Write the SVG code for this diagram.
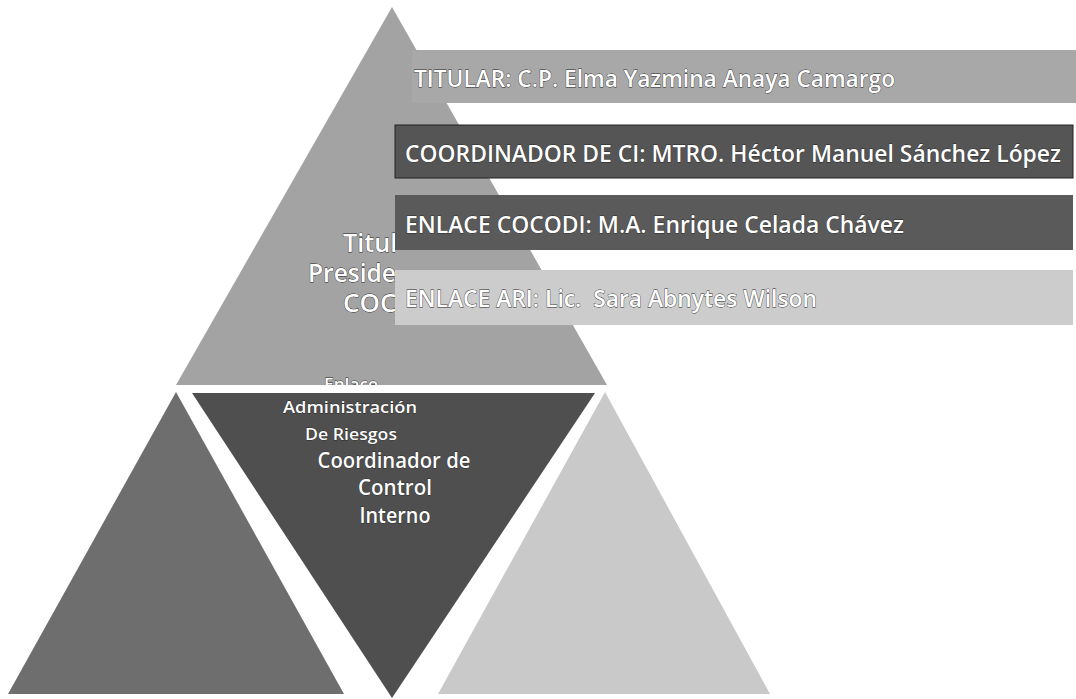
<svg xmlns="http://www.w3.org/2000/svg" width="1076" height="699" viewBox="0 0 1076 699">
<style>
.t{font-family:"Open Sans","Liberation Sans",sans-serif;fill:#ffffff;stroke:#2a2a2a;stroke-width:0.8;paint-order:stroke;font-weight:600;}
.bar{font-size:24px;}
.mid{text-anchor:middle;}
</style>
<defs>
<clipPath id="topclip"><rect x="0" y="0" width="1076" height="385"/></clipPath>
<clipPath id="leftclip"><rect x="0" y="0" width="395" height="385"/></clipPath>
</defs>
<rect width="1076" height="699" fill="#ffffff"/>
<g id="top-triangle">
<polygon points="392,7 607,385 176,385" fill="#a3a3a3"/>
<g clip-path="url(#topclip)">
<text class="t mid" x="351" y="390" font-size="17" textLength="54" lengthAdjust="spacingAndGlyphs">Enlace</text>
</g>
</g>
<g id="left-triangle">
<polygon points="176,392 344,694 8,694" fill="#6e6e6e"/>
</g>
<g id="inverted-triangle">
<polygon points="192,393 595,393 392,698" fill="#4f4f4f"/>
<text class="t mid" x="350" y="413" font-size="17" textLength="134" lengthAdjust="spacingAndGlyphs">Administración</text>
<text class="t mid" x="351" y="440" font-size="17" textLength="92" lengthAdjust="spacingAndGlyphs">De Riesgos</text>
<text class="t mid" x="394" y="468" font-size="21" textLength="153" lengthAdjust="spacingAndGlyphs">Coordinador de</text>
<text class="t mid" x="395" y="495" font-size="21" textLength="74" lengthAdjust="spacingAndGlyphs">Control</text>
<text class="t mid" x="395" y="523" font-size="21" textLength="71" lengthAdjust="spacingAndGlyphs">Interno</text>
</g>
<g id="right-triangle">
<polygon points="605,392 770,694 438,694" fill="#c9c9c9"/>
</g>
<g id="titular-presidente" clip-path="url(#leftclip)">
<text class="t" x="343" y="252" font-size="26" font-weight="400" textLength="100" lengthAdjust="spacingAndGlyphs">Titular y</text>
<text class="t" x="308" y="282" font-size="26" font-weight="400" textLength="170" lengthAdjust="spacingAndGlyphs">Presidente del</text>
<text class="t" x="343" y="312" font-size="26" font-weight="400">COCODI</text>
</g>
<g id="bar-titular">
<rect x="412" y="50" width="664" height="53" fill="#a8a8a8"/>
<text class="t bar" x="414" y="87" textLength="481" lengthAdjust="spacingAndGlyphs">TITULAR: C.P. Elma Yazmina Anaya Camargo</text>
</g>
<g id="bar-coordinador">
<rect x="395" y="125" width="678" height="53" fill="#555555" stroke="#222" stroke-width="1"/>
<text class="t bar" x="405" y="162" textLength="656" lengthAdjust="spacingAndGlyphs">COORDINADOR DE CI: MTRO. Héctor Manuel Sánchez López</text>
</g>
<g id="bar-cocodi">
<rect x="395" y="195" width="678" height="55" fill="#5a5a5a"/>
<text class="t bar" x="405" y="233" textLength="499" lengthAdjust="spacingAndGlyphs">ENLACE COCODI: M.A. Enrique Celada Chávez</text>
</g>
<g id="bar-ari">
<rect x="395" y="270" width="678" height="55" fill="#cccccc"/>
<text class="t bar" x="405" y="307" textLength="412" lengthAdjust="spacingAndGlyphs" xml:space="preserve">ENLACE ARI: Lic.  Sara Abnytes Wilson</text>
</g>
<g id="connectors"></g>
</svg>
